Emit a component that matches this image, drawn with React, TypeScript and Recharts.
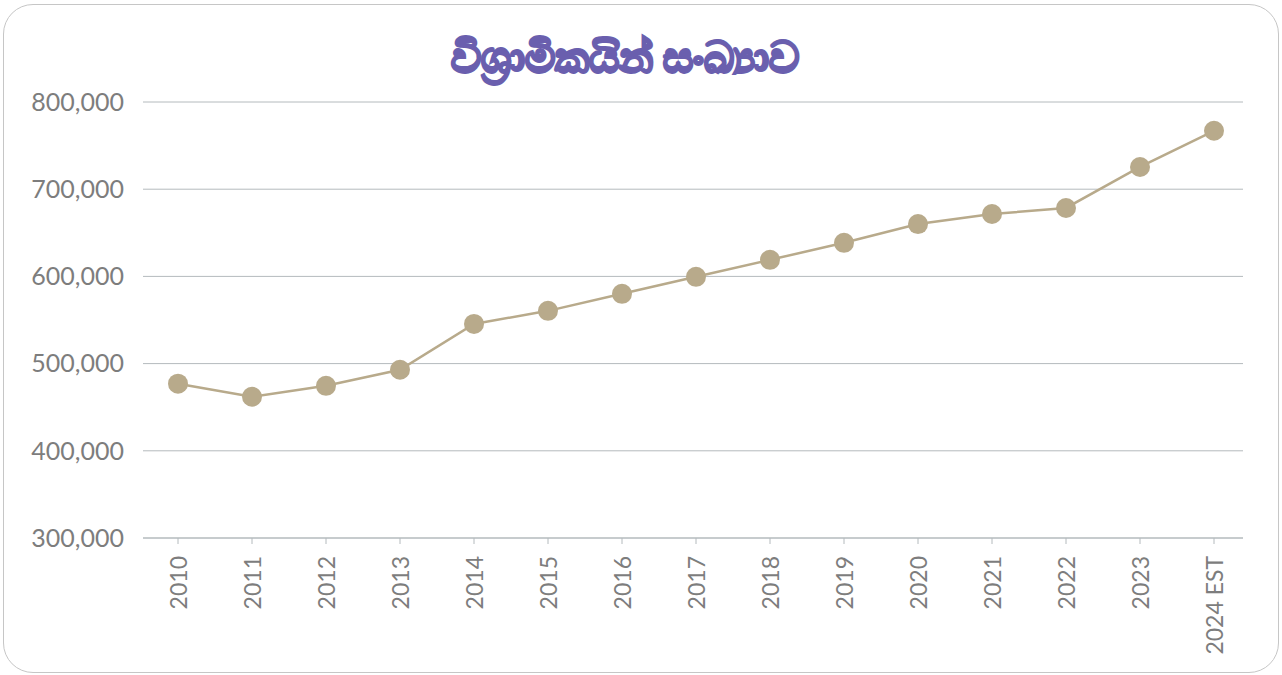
import { LineChart, Line, XAxis, YAxis, CartesianGrid } from 'recharts';

const years = ['2010', '2011', '2012', '2013', '2014', '2015', '2016', '2017', '2018', '2019', '2020', '2021', '2022', '2023', '2024 EST'];
const retirees = [477000, 462000, 474500, 493000, 545500, 560500, 580000, 599500, 619000, 638500, 660000, 671500, 678500, 725500, 767000];
const yTicks = [300000, 400000, 500000, 600000, 700000, 800000];

const data = years.map((year, i) => ({ year, value: retirees[i] }));

const FONT = 'Lato, "Open Sans", sans-serif';
const TEXT = '#7d7d7d';
const GRID = '#b4babd';

function YearTick({ x, y, payload }: any) {
  return (
    <text
      x={x}
      y={y + 10}
      transform={`rotate(-90, ${x}, ${y + 10})`}
      textAnchor="end"
      dominantBaseline="central"
      fill={TEXT}
      fontSize={23}
      fontFamily={FONT}
    >
      {payload.value}
    </text>
  );
}

export default function App() {
  return (
    <div style={{ position: 'absolute', left: 0, top: 0, width: 1282, height: 675, background: '#fff', overflow: 'hidden' }}>
      <div
        style={{
          position: 'absolute',
          left: 3,
          top: 4,
          width: 1274,
          height: 667,
          border: '1.5px solid #c6c6c6',
          borderRadius: 30,
        }}
      />
      <div
        style={{
          position: 'absolute',
          left: 0,
          top: 28,
          width: 1250,
          textAlign: 'center',
          fontFamily: '"Noto Sans", sans-serif',
          fontWeight: 900,
          fontSize: 42,
          color: '#6a5fae',
          lineHeight: '56px',
          WebkitTextStroke: '2.5px #6a5fae',
        }}
      >
        විශ්‍රාමිකයින් සංඛ්‍යාව
      </div>
      <div style={{ position: 'absolute', left: 0, top: 0 }}>
        <LineChart width={1282} height={675} data={data} margin={{ top: 102, right: 39, bottom: 0, left: 0 }}>
          <CartesianGrid vertical={false} stroke={GRID} strokeWidth={1} />
          <XAxis
            dataKey="year"
            height={137}
            interval={0}
            padding={{ left: 35, right: 29 }}
            axisLine={{ stroke: GRID }}
            tickLine={{ stroke: GRID }}
            tickSize={6}
            tick={<YearTick />}
          />
          <YAxis
            domain={[300000, 800000]}
            ticks={yTicks}
            width={143}
            axisLine={false}
            tickLine={false}
            tickSize={0}
            tickMargin={19}
            tickFormatter={(v: number) => v.toLocaleString('en-US')}
            tick={{ fill: TEXT, fontSize: 25, fontFamily: FONT }}
          />
          <Line
            type="linear"
            dataKey="value"
            stroke="#b8aa8b"
            strokeWidth={2.5}
            dot={{ r: 10, fill: '#b8aa8b', stroke: '#b8aa8b', strokeWidth: 0 }}
            isAnimationActive={false}
          />
        </LineChart>
      </div>
    </div>
  );
}
